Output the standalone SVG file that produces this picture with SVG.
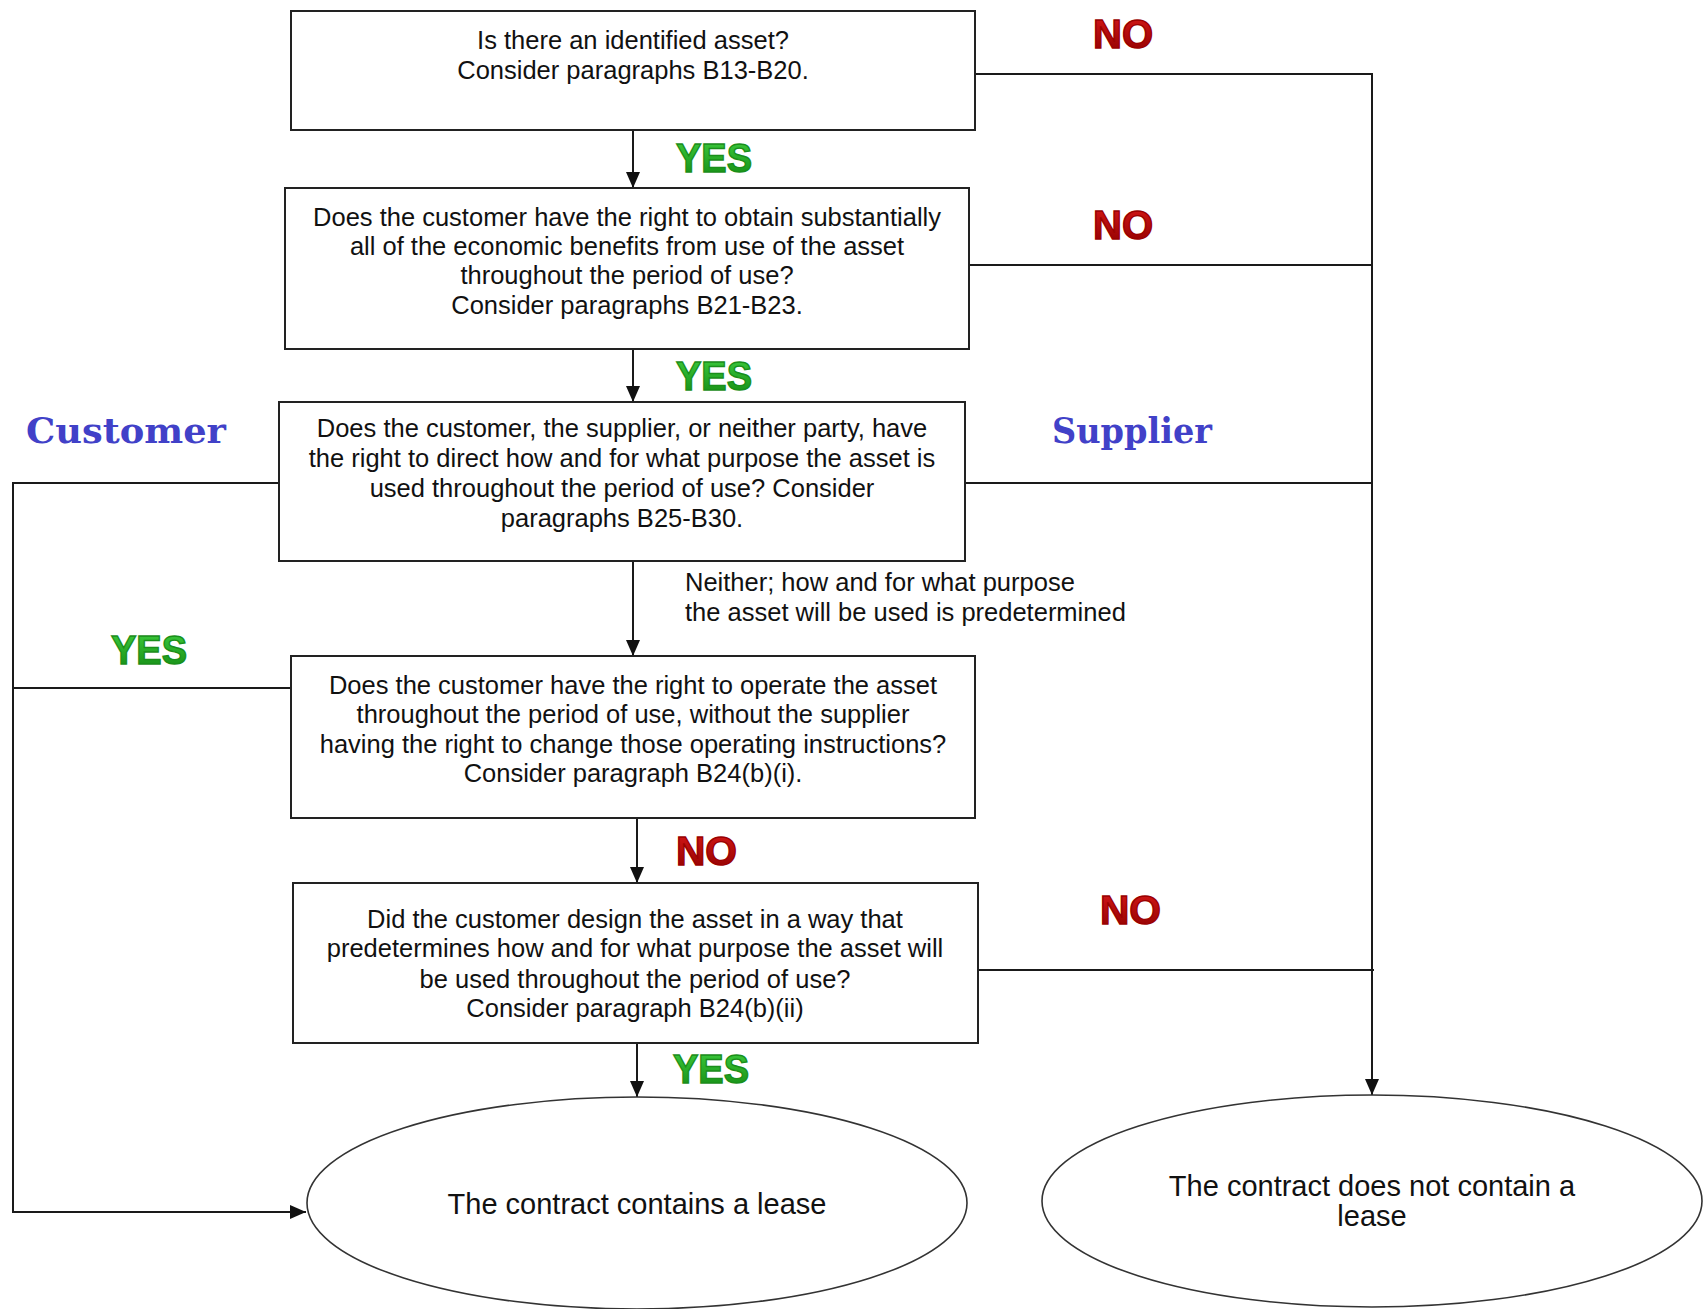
<svg xmlns="http://www.w3.org/2000/svg" width="1707" height="1309" viewBox="0 0 1707 1309">
<defs>
<style>
.box{fill:#fff;stroke:#222;stroke-width:2}
.ell{fill:#fff;stroke:#333;stroke-width:1.6}
.t{font-family:"Liberation Sans",Arial,sans-serif;font-size:25.5px;fill:#111;text-anchor:middle}
.tl{font-family:"Liberation Sans",Arial,sans-serif;font-size:25.5px;fill:#111}
.te{font-family:"Liberation Sans",Arial,sans-serif;font-size:29px;fill:#111;text-anchor:middle}
.ln{fill:none;stroke:#1a1a1a;stroke-width:2}
.yes{font-family:"Liberation Sans",Arial,sans-serif;font-weight:bold;font-size:40px;fill:url(#gYes);stroke:#1a8f1a;stroke-width:1.4}
.no{font-family:"Liberation Sans",Arial,sans-serif;font-weight:bold;font-size:40px;fill:url(#gNo);stroke:#9a0000;stroke-width:1.4}
.party{font-family:"DejaVu Serif",serif;font-weight:bold;font-size:36px;fill:#4141c8}
</style>
<linearGradient id="gYes" x1="0" y1="0" x2="0" y2="1">
<stop offset="0" stop-color="#3fcf3f"/>
<stop offset="1" stop-color="#138a13"/>
</linearGradient>
<linearGradient id="gNo" x1="0" y1="0" x2="0" y2="1">
<stop offset="0" stop-color="#d81818"/>
<stop offset="1" stop-color="#8e0000"/>
</linearGradient>
<marker id="arr" viewBox="0 0 16 14" refX="16" refY="7" markerWidth="16" markerHeight="14" markerUnits="userSpaceOnUse" orient="auto">
<path d="M0,0 L16,7 L0,14 Z" fill="#111"/>
</marker>
</defs>

<g id="connectors">
<line class="ln" x1="633" y1="130" x2="633" y2="188" marker-end="url(#arr)"/>
<line class="ln" x1="633" y1="349" x2="633" y2="402" marker-end="url(#arr)"/>
<line class="ln" x1="633" y1="561" x2="633" y2="656" marker-end="url(#arr)"/>
<line class="ln" x1="637" y1="818" x2="637" y2="883" marker-end="url(#arr)"/>
<line class="ln" x1="637" y1="1043" x2="637" y2="1097" marker-end="url(#arr)"/>
<polyline class="ln" points="975,74 1372,74 1372,1095" marker-end="url(#arr)"/>
<line class="ln" x1="969" y1="265" x2="1372" y2="265"/>
<line class="ln" x1="965" y1="483" x2="1372" y2="483"/>
<line class="ln" x1="978" y1="970" x2="1374" y2="970"/>
<polyline class="ln" points="279,483 13,483 13,1212 306,1212" marker-end="url(#arr)"/>
<line class="ln" x1="291" y1="688" x2="13" y2="688"/>
</g>

<g id="labels">
<text class="no" x="1093" y="48" textLength="60" lengthAdjust="spacingAndGlyphs">NO</text>
<text class="yes" x="676" y="172" textLength="76" lengthAdjust="spacingAndGlyphs">YES</text>
<text class="no" x="1093" y="239" textLength="60" lengthAdjust="spacingAndGlyphs">NO</text>
<text class="yes" x="676" y="390" textLength="76" lengthAdjust="spacingAndGlyphs">YES</text>
<text class="party" x="26" y="443" textLength="200" lengthAdjust="spacingAndGlyphs">Customer</text>
<text class="party" x="1052" y="443" textLength="160" lengthAdjust="spacingAndGlyphs">Supplier</text>
<text class="tl" x="685" y="591">Neither; how and for what purpose</text>
<text class="tl" x="685" y="621">the asset will be used is predetermined</text>
<text class="yes" x="111" y="664" textLength="76" lengthAdjust="spacingAndGlyphs">YES</text>
<text class="no" x="676" y="865" textLength="61" lengthAdjust="spacingAndGlyphs">NO</text>
<text class="no" x="1100" y="924" textLength="61" lengthAdjust="spacingAndGlyphs">NO</text>
<text class="yes" x="673" y="1083" textLength="76" lengthAdjust="spacingAndGlyphs">YES</text>
</g>

<g id="q1">
<rect class="box" x="291" y="11" width="684" height="119"/>
<text class="t" x="633" y="49">Is there an identified asset?</text>
<text class="t" x="633" y="79">Consider paragraphs B13-B20.</text>
</g>

<g id="q2">
<rect class="box" x="285" y="188" width="684" height="161"/>
<text class="t" x="627" y="226">Does the customer have the right to obtain substantially</text>
<text class="t" x="627" y="255">all of the economic benefits from use of the asset</text>
<text class="t" x="627" y="284">throughout the period of use?</text>
<text class="t" x="627" y="314">Consider paragraphs B21-B23.</text>
</g>

<g id="q3">
<rect class="box" x="279" y="402" width="686" height="159"/>
<text class="t" x="622" y="437">Does the customer, the supplier, or neither party, have</text>
<text class="t" x="622" y="467">the right to direct how and for what purpose the asset is</text>
<text class="t" x="622" y="497">used throughout the period of use? Consider</text>
<text class="t" x="622" y="527">paragraphs B25-B30.</text>
</g>

<g id="q4">
<rect class="box" x="291" y="656" width="684" height="162"/>
<text class="t" x="633" y="694">Does the customer have the right to operate the asset</text>
<text class="t" x="633" y="723">throughout the period of use, without the supplier</text>
<text class="t" x="633" y="753">having the right to change those operating instructions?</text>
<text class="t" x="633" y="782">Consider paragraph B24(b)(i).</text>
</g>

<g id="q5">
<rect class="box" x="293" y="883" width="685" height="160"/>
<text class="t" x="635" y="928">Did the customer design the asset in a way that</text>
<text class="t" x="635" y="957">predetermines how and for what purpose the asset will</text>
<text class="t" x="635" y="988">be used throughout the period of use?</text>
<text class="t" x="635" y="1017">Consider paragraph B24(b)(ii)</text>
</g>

<g id="lease">
<ellipse class="ell" cx="637" cy="1203" rx="330" ry="106"/>
<text class="te" x="637" y="1214">The contract contains a lease</text>
</g>

<g id="nolease">
<ellipse class="ell" cx="1372" cy="1201" rx="330" ry="106"/>
<text class="te" x="1372" y="1196">The contract does not contain a</text>
<text class="te" x="1372" y="1226">lease</text>
</g>
</svg>
